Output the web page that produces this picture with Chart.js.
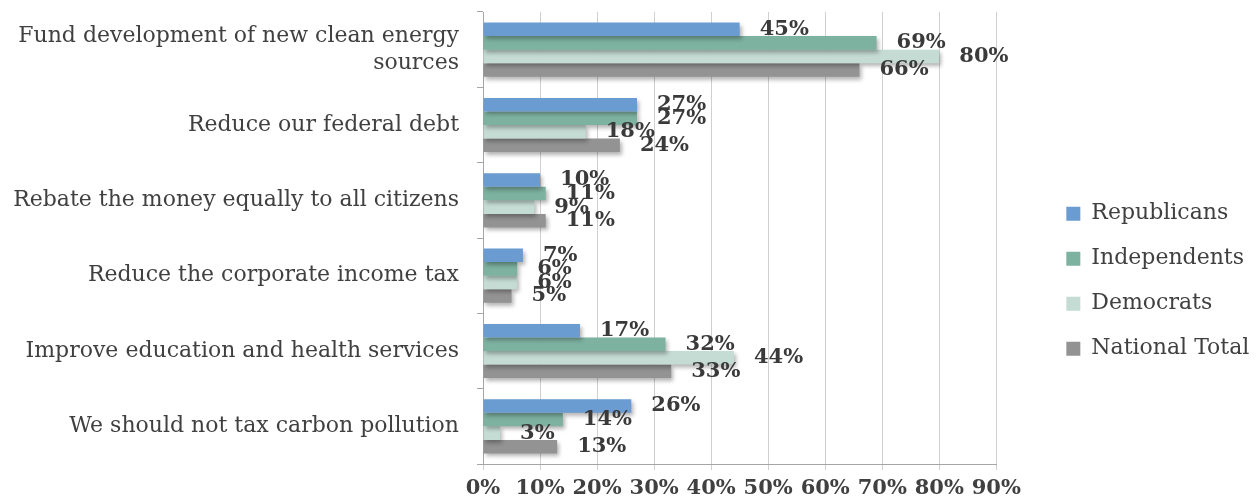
<!DOCTYPE html>
<html lang="en">
<head>
    <meta charset="UTF-8">
    <title>Carbon tax revenue preferences</title>
    <script src="https://cdn.jsdelivr.net/npm/chart.js"></script>
    <style>
        body { margin: 0; background: #fff; }
        #wrap { width: 1257px; height: 500px; }
    </style>
</head>
<body>
    <div id="wrap"><canvas id="taxChart" width="1257" height="500"></canvas></div>

    <script>
        const categories = [
            ["Fund development of new clean energy", "sources"],
            "Reduce our federal debt",
            "Rebate the money equally to all citizens",
            "Reduce the corporate income tax",
            "Improve education and health services",
            "We should not tax carbon pollution"
        ];
        const republicans = [45, 27, 10, 7, 17, 26];
        const independents = [69, 27, 11, 6, 32, 14];
        const democrats = [80, 18, 9, 6, 44, 3];
        const nationalTotal = [66, 24, 11, 5, 33, 13];
        const xTicks = [0, 10, 20, 30, 40, 50, 60, 70, 80, 90];

        const serif = "'DejaVu Serif', serif";
        const textColor = "#404040";

        // soft drop shadow under the bars, like the original
        const barShadow = {
            id: "barShadow",
            beforeDatasetsDraw(chart) {
                const ctx = chart.ctx;
                ctx.save();
                ctx.shadowColor = "rgba(0,0,0,0.3)";
                ctx.shadowBlur = 4;
                ctx.shadowOffsetX = 2;
                ctx.shadowOffsetY = 3;
            },
            afterDatasetsDraw(chart) {
                chart.ctx.restore();
            }
        };

        // percent labels just past the end of each bar
        const valueLabels = {
            id: "valueLabels",
            afterDatasetsDraw(chart) {
                const ctx = chart.ctx;
                ctx.save();
                ctx.font = "bold 21px " + serif;
                ctx.fillStyle = "#3a3a3a";
                ctx.textAlign = "left";
                ctx.textBaseline = "middle";
                chart.data.datasets.forEach((ds, i) => {
                    chart.getDatasetMeta(i).data.forEach((bar, j) => {
                        ctx.fillText(ds.data[j] + "%", bar.x + 20, bar.y);
                    });
                });
                ctx.restore();
            }
        };

        new Chart(document.getElementById("taxChart"), {
            type: "bar",
            data: {
                labels: categories,
                datasets: [
                    { label: "Republicans", data: republicans, backgroundColor: "#6a9bd1" },
                    { label: "Independents", data: independents, backgroundColor: "#7db1a0" },
                    { label: "Democrats", data: democrats, backgroundColor: "#c5dcd4" },
                    { label: "National Total", data: nationalTotal, backgroundColor: "#939393" }
                ]
            },
            options: {
                indexAxis: "y",
                responsive: false,
                animation: false,
                datasets: { bar: { categoryPercentage: 0.72, barPercentage: 1.0 } },
                layout: { padding: { top: 12, left: 0, right: 5, bottom: 0 } },
                scales: {
                    x: {
                        min: 0,
                        max: 90,
                        afterBuildTicks: axis => { axis.ticks = xTicks.map(v => ({ value: v })); },
                        afterFit: axis => { axis.height = 36; },
                        ticks: {
                            callback: v => v + "%",
                            font: { family: serif, size: 21, weight: "bold" },
                            color: textColor,
                            padding: 6
                        },
                        grid: { color: "#d0d0d0", tickLength: 6 },
                        border: { color: "#a6a6a6" }
                    },
                    y: {
                        afterFit: axis => {
                            axis.width = 483;
                            axis.paddingTop = 0;
                            axis.paddingBottom = 0;
                        },
                        ticks: {
                            font: { family: serif, size: 22 },
                            color: textColor,
                            padding: 18
                        },
                        grid: { drawOnChartArea: false, color: "#a6a6a6", tickLength: 6 },
                        border: { color: "#a6a6a6" }
                    },
                    // empty spacer between the plot and the legend
                    gap: {
                        type: "linear",
                        position: "right",
                        ticks: { display: false },
                        grid: { display: false },
                        border: { display: false },
                        afterFit: axis => { axis.width = 47; }
                    }
                },
                plugins: {
                    legend: {
                        position: "right",
                        title: { display: true, text: " ", padding: { top: 36, bottom: 0 } },
                        labels: {
                            boxWidth: 14,
                            boxHeight: 14,
                            padding: 23,
                            color: textColor,
                            font: { family: serif, size: 22 }
                        }
                    },
                    tooltip: { enabled: false }
                }
            },
            plugins: [barShadow, valueLabels]
        });
    </script>
</body>
</html>
